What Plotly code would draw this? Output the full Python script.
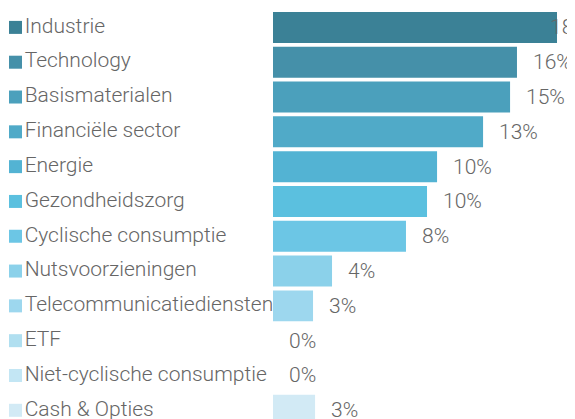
import plotly.graph_objects as go

categories = ["Industrie", "Technology", "Basismaterialen", "Financiële sector", "Energie",
              "Gezondheidszorg", "Cyclische consumptie", "Nutsvoorzieningen",
              "Telecommunicatiediensten", "ETF", "Niet-cyclische consumptie", "Cash & Opties"]
values = [18.09, 15.54, 15.10, 13.38, 10.45, 9.81, 8.47, 3.76, 2.55, 0.0, 0.0, 2.68]
value_labels = ["18%", "16%", "15%", "13%", "10%", "10%", "8%", "4%", "3%", "0%", "0%", "3%"]
colors = ["#3b8196", "#4590a9", "#4ba0bc", "#50aac8", "#53b3d3", "#5bc0df",
          "#6cc6e5", "#8bd1ea", "#9dd7ee", "#b0dff0", "#c3e6f4", "#d2eaf5"]

FONT = "Roboto"
TXT = "#666666"
LABEL_CLAMP = 16.6

fig = go.Figure()
fig.add_trace(go.Scatter(
    x=[0] * len(categories), y=categories, mode="markers+text",
    marker=dict(symbol="square", size=13, color=colors),
    text=categories, textposition="middle right",
    textfont=dict(family=FONT, size=21, color=TXT, weight=300),
    cliponaxis=False, hoverinfo="skip", xaxis="x", yaxis="y", showlegend=False))
fig.add_trace(go.Bar(
    x=values, y=categories, orientation="h", marker=dict(color=colors, line=dict(width=0)),
    xaxis="x2", yaxis="y", showlegend=False))

for c, v, t in zip(categories, values, value_labels):
    fig.add_annotation(x=min(v, LABEL_CLAMP), y=c, xref="x2", yref="y", text=t,
                       showarrow=False, xanchor="left", xshift=14,
                       font=dict(family=FONT, size=21, color=TXT, weight=300))

fig.update_layout(
    width=575, height=419, margin=dict(l=0, r=0, t=2, b=0),
    paper_bgcolor="white", plot_bgcolor="white", bargap=0.11,
    xaxis=dict(domain=[0, 265 / 575], range=[-7.5, 257.5], visible=False, fixedrange=True),
    xaxis2=dict(domain=[265 / 575, 1], range=[0, 310 / 15.7], visible=False, anchor="y"),
    yaxis=dict(range=[11.48, -0.5], visible=False, type="category"),
)
fig.write_html("out.html")
